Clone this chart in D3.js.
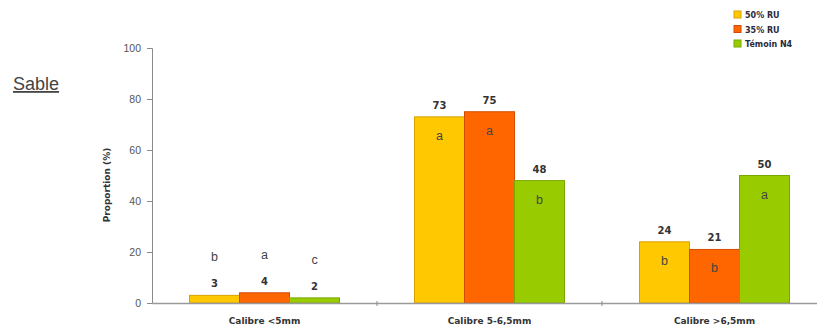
<!DOCTYPE html>
<html><head><meta charset="utf-8">
<script src="https://cdn.jsdelivr.net/npm/d3@7"></script>
<style>body{margin:0;background:#fff}svg{display:block}</style>
</head><body>
<svg id="chart" width="817" height="335"></svg>
<script>
// Size classes and treatment series
const categories = ["Calibre <5mm", "Calibre 5-6,5mm", "Calibre >6,5mm"];
const seriesNames = ["50% RU", "35% RU", "Témoin N4"];
const values50 = [3, 73, 24];
const values35 = [4, 75, 21];
const valuesTemoin = [2, 48, 50];
// Statistical group letters per bar
const letters50 = ["b", "a", "b"];
const letters35 = ["a", "a", "b"];
const lettersTemoin = ["c", "b", "a"];
const yTicks = [0, 20, 40, 60, 80, 100];

const fills = ["#ffc800", "#ff6600", "#99cc00"];
const strokes = ["#d9a000", "#d24c00", "#78a800"];

const series = [values50, values35, valuesTemoin];
const letters = [letters50, letters35, lettersTemoin];

const svg = d3.select("#chart");
const mLeft = 152, mTop = 48, mBottom = 303, mRight = 827;

const x0 = d3.scaleBand().domain(categories).range([mLeft, mRight]).paddingInner(0).paddingOuter(0);
const x1 = d3.scaleBand().domain(seriesNames).range([0, x0.bandwidth()]).paddingInner(0).paddingOuter(0.75);
const y = d3.scaleLinear().domain([0, 100]).range([mBottom, mTop]);

const FONT = "Arial, 'Liberation Sans', sans-serif";
const BOLDFONT = "'DejaVu Sans', Verdana, sans-serif";

// Y axis
const yAxis = svg.append("g").attr("transform", `translate(${mLeft},0)`)
  .call(d3.axisLeft(y).tickValues(yTicks).tickSize(5).tickPadding(6));
yAxis.select(".domain").attr("stroke", "#8a8a8a");
yAxis.selectAll(".tick line").attr("stroke", "#8a8a8a");
yAxis.selectAll("text").attr("fill", "#555").attr("font-family", FONT).attr("font-size", 10.5);

svg.append("text")
  .attr("transform", "translate(110,185) rotate(-90)")
  .attr("text-anchor", "middle")
  .attr("font-family", BOLDFONT)
  .attr("font-size", 9).attr("font-weight", "bold").attr("fill", "#333")
  .text("Proportion (%)");

// Bars
const groups = svg.selectAll("g.grp").data(categories).join("g")
  .attr("class", "grp")
  .attr("transform", d => `translate(${x0(d)},0)`);

seriesNames.forEach((s, si) => {
  groups.append("rect")
    .attr("x", x1(s))
    .attr("width", x1.bandwidth())
    .attr("y", (d, ci) => y(series[si][ci]))
    .attr("height", (d, ci) => mBottom - y(series[si][ci]))
    .attr("fill", fills[si])
    .attr("stroke", strokes[si]).attr("stroke-width", 1);
});

// X axis
const xAxis = svg.append("g").attr("transform", `translate(0,${mBottom})`)
  .call(d3.axisBottom(x0).tickSize(0).tickPadding(15));
xAxis.select(".domain").attr("stroke", "#9a9a9a").attr("stroke-width", 1.5);
xAxis.selectAll("text").attr("fill", "#333").attr("font-family", BOLDFONT)
  .attr("font-size", 9).attr("font-weight", "bold");
const boundaries = categories.map(c => x0(c)).slice(1);
svg.append("g").selectAll("line").data(boundaries).join("line")
  .attr("x1", d => d).attr("x2", d => d)
  .attr("y1", mBottom - 2).attr("y2", mBottom + 3)
  .attr("stroke", "#8a8a8a");

// Value labels and group letters
seriesNames.forEach((s, si) => {
  groups.append("text")
    .attr("x", x1(s) + x1.bandwidth() / 2)
    .attr("y", (d, ci) => y(series[si][ci]) - 8)
    .attr("text-anchor", "middle")
    .attr("font-family", BOLDFONT)
    .attr("font-size", 10).attr("font-weight", "bold").attr("fill", "#333")
    .text((d, ci) => series[si][ci]);
  groups.append("text")
    .attr("x", x1(s) + x1.bandwidth() / 2)
    .attr("y", (d, ci) => series[si][ci] < 10 ? y(series[si][ci]) - 34 : y(series[si][ci]) + 23)
    .attr("text-anchor", "middle")
    .attr("font-family", FONT)
    .attr("font-size", 12.5).attr("fill", "#444")
    .text((d, ci) => letters[si][ci]);
});

// Soil type heading
svg.append("text")
  .attr("x", 13).attr("y", 90)
  .attr("font-family", FONT)
  .attr("font-size", 18).attr("fill", "#444")
  .attr("text-decoration", "underline")
  .text("Sable");

// Legend
const legend = svg.append("g").attr("transform", "translate(734,11)");
seriesNames.forEach((s, i) => {
  const g = legend.append("g").attr("transform", `translate(0,${i * 14.5})`);
  g.append("rect").attr("width", 7).attr("height", 7)
    .attr("fill", fills[i]).attr("stroke", strokes[i]);
  g.append("text").attr("x", 11).attr("y", 7)
    .attr("font-family", BOLDFONT)
    .attr("font-size", 8).attr("font-weight", "bold").attr("fill", "#2a2a3a")
    .text(s);
});
</script>
</body></html>
